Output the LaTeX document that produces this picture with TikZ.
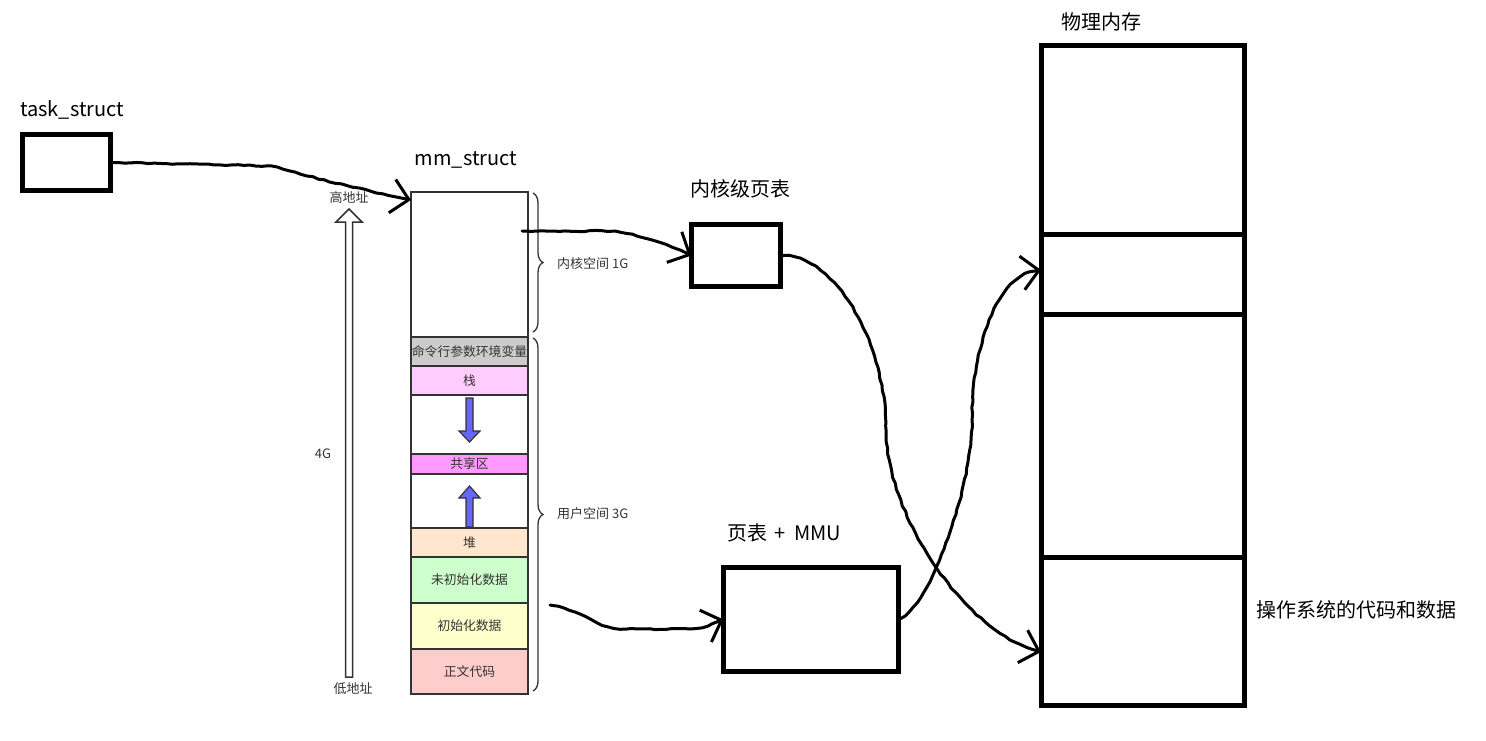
\documentclass[tikz,border=0pt]{standalone}
\usepackage{fontspec}
\setmainfont{Noto Sans CJK SC}
\usetikzlibrary{positioning,arrows.meta,decorations.pathreplacing,decorations.pathmorphing}

\definecolor{txtgray}{HTML}{333333}
\definecolor{cmdgray}{HTML}{CCCCCC}
\definecolor{stackpink}{HTML}{FFCCFF}
\definecolor{sharepink}{HTML}{FF99FF}
\definecolor{heapcol}{HTML}{FFE6CC}
\definecolor{bsscol}{HTML}{CCFFCC}
\definecolor{datacol}{HTML}{FFFFCC}
\definecolor{textcol}{HTML}{FFCCCC}
\definecolor{arrowblue}{HTML}{6666FF}

\begin{document}
\pgfmathsetseed{7}
\begin{tikzpicture}[
    x=1pt, y=-1pt,
    title/.style={font=\fontsize{20}{24}\selectfont, inner sep=0pt},
    small/.style={font=\fontsize{13}{15}\selectfont, text=txtgray, inner sep=0pt},
    bigbox/.style={draw, line width=5pt, inner sep=0pt, outer sep=0pt},
    seg/.style={draw=txtgray, line width=1.8pt, minimum width=117pt, inner sep=0pt, outer sep=0pt,
        font=\fontsize{12.8}{14}\selectfont, text=txtgray},
    brace/.style={draw=txtgray, line width=1.3pt, decorate, decoration={brace, amplitude=10pt}},
    handarrow/.style={line width=3pt, line cap=round, line join=round,
        -{Straight Barb[length=17pt,width=34pt,line width=3pt]},
        decorate, decoration={random steps, segment length=6pt, amplitude=0.6pt, pre length=2pt, post length=12pt}},
    hollow/.style={draw=txtgray, line width=1.5pt, fill=white},
    blockarrow/.style={draw=txtgray, line width=1.2pt, fill=arrowblue, line join=miter}
]
\useasboundingbox (0,0) rectangle (1486,741);

% task_struct
\node[title, anchor=west] (tasklbl) at (20,110) {task\_struct};
\node[bigbox, minimum width=88pt, minimum height=55pt] (task) at (66,162.5) {};

% mm_struct column
\node[title] (mmlbl) at (466,160) {mm\_struct};
\node[seg, minimum height=145pt, anchor=north] (kern) at (469.5,192) {};
\node[seg, fill=cmdgray, minimum height=29pt, below=0pt of kern] (args) {命令行参数环境变量};
\node[seg, fill=stackpink, minimum height=29pt, below=0pt of args] (stack) {栈};
\node[seg, minimum height=59pt, below=0pt of stack] (gap1) {};
\node[seg, fill=sharepink, minimum height=20pt, below=0pt of gap1] (share) {共享区};
\node[seg, minimum height=54pt, below=0pt of share] (gap2) {};
\node[seg, fill=heapcol, minimum height=29pt, below=0pt of gap2] (heap) {堆};
\node[seg, fill=bsscol, minimum height=46pt, below=0pt of heap] (bss) {未初始化数据};
\node[seg, fill=datacol, minimum height=46pt, below=0pt of bss] (data) {初始化数据};
\node[seg, fill=textcol, minimum height=45pt, below=0pt of data] (code) {正文代码};

% stack / heap growth
\draw[blockarrow] (466,398) -- (473,398) -- (473,431) -- (480,431) -- (469.5,442)
    -- (459,431) -- (466,431) -- cycle;
\draw[blockarrow] (466,527) -- (466,498) -- (459,498) -- (469.5,486) -- (480,498)
    -- (473,498) -- (473,527) -- cycle;

% braces
\draw[brace] (533,193) -- (533,332);
\draw[brace] (533,338) -- (533,691);
\node[small, anchor=west] (kspace) at (557,264) {内核空间 1G};
\node[small, anchor=west] (uspace) at (557,514) {用户空间 3G};

% address range
\draw[hollow] (345.5,677) -- (345.5,222) -- (336,222) -- (349,209) -- (362,222)
    -- (352.5,222) -- (352.5,677) -- cycle;
\node[small] (high) at (349,198) {高地址};
\node[small] (low) at (353,689) {低地址};
\node[small] (four) at (323,454) {4G};

% page tables
\node[title] (ktablbl) at (740,189) {内核级页表};
\node[bigbox, minimum width=89pt, minimum height=62pt] (ktab) at (736,255.5) {};
\node[title] (mmulbl) at (784,533) {页表\hspace{0.4em}+\hspace{0.4em}MMU};
\node[bigbox, minimum width=175pt, minimum height=104pt] (mmu) at (811,619.5) {};

% physical memory
\node[title] (physlbl) at (1101,22) {物理内存};
\node[bigbox, minimum width=203pt, minimum height=188pt, anchor=north] (p1) at (1142.5,46) {};
\node[bigbox, minimum width=203pt, minimum height=80pt, below=0pt of p1] (p2) {};
\node[bigbox, minimum width=203pt, minimum height=243pt, below=0pt of p2] (p3) {};
\node[bigbox, minimum width=203pt, minimum height=148pt, below=0pt of p3] (p4) {};
\node[title, anchor=west] (oslbl) at (1256,610) {操作系统的代码和数据};

% connectors
\draw[handarrow] (task.east) -- (272,166) .. controls +(40,12) and +(-30,-6) .. ([yshift=-8pt]kern.north west);
\draw[handarrow] ([shift={(-6pt,33.5pt)}]kern.east) -- (615,231) .. controls +(30,5) and +(-15,-8) .. (ktab.west);
\draw[handarrow] (550,605) .. controls +(40,8) and +(-30,0) .. (625,629) -- (690,629)
    .. controls +(15,0) and +(-12,3) .. (mmu.west);
\draw[handarrow] (ktab.east) .. controls +(60,0) and +(0,-80) .. (886,430)
    .. controls +(0,80) and +(-80,-20) .. ([yshift=-21pt]p4.west);
\draw[handarrow] (mmu.east) .. controls +(30,-10) and +(0,70) .. (972,420)
    .. controls +(0,-80) and +(-40,0) .. ([yshift=4pt]p2.west);
\end{tikzpicture}
\end{document}
